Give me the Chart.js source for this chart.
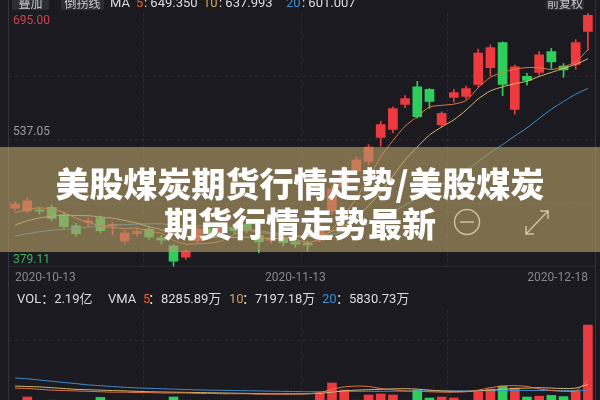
<!DOCTYPE html>
<html><head><meta charset="utf-8">
<script src="https://cdn.jsdelivr.net/npm/chart.js@4/dist/chart.umd.min.js"></script>
<style>
html,body{margin:0;padding:0;background:#1b1a20;}
#wrap{position:relative;width:600px;height:400px;overflow:hidden;background:#1b1a20;font-family:Roboto,"Noto Sans CJK SC",sans-serif;}
canvas{position:absolute;left:0;}
#c1{top:0;} #c2{top:290px;}
.t{position:absolute;white-space:nowrap;color:#dcdce0;font-size:13px;line-height:14px;}
.top{top:-4px;font-size:13px;}
.btn{position:absolute;top:-6px;height:16px;background:#2d2d35;color:#c9c9ce;font-size:12px;line-height:18px;text-align:center;border-radius:2px;font-family:"Noto Sans CJK SC",sans-serif;}
.vline{position:absolute;top:0;width:1px;height:400px;background:#33333b;}
#banner{position:absolute;left:0;top:147px;width:600px;height:105px;background:rgba(180,157,103,0.64);z-index:5;}
#btxt{position:absolute;left:0;top:16px;width:600px;text-align:center;color:#fff;font-family:"Noto Sans CJK SC",sans-serif;font-weight:900;font-size:34px;line-height:40px;}
#icons{position:absolute;left:0;top:0;}
</style></head>
<body>
<div id="wrap">
<canvas id="c1" width="600" height="290"></canvas>
<canvas id="c2" width="600" height="110"></canvas>
<div class="vline" style="left:8px"></div>
<div class="vline" style="left:595px"></div>

<div class="btn" style="left:12px;width:37px">叠加</div>
<div class="btn" style="left:61px;width:43px">倒拐线</div>
<div class="t top" style="left:110px">MA</div>
<div class="t top" style="left:136px;color:#e2622c">5</div>
<div class="t top" style="left:144px">: 649.350</div>
<div class="t top" style="left:203px;color:#caa45c">10</div>
<div class="t top" style="left:219px">: 637.993</div>
<div class="t top" style="left:286px;color:#3b8fd0">20</div>
<div class="t top" style="left:302px">: 601.007</div>
<div class="btn" style="left:546px;width:38px">前复权</div>

<div class="t" style="left:17px;top:292px">VOL：2.19亿</div>
<div class="t" style="left:108px;top:292px">VMA</div>
<div class="t" style="left:143px;top:292px;color:#e2622c">5</div>
<div class="t" style="left:148px;top:292px">：8285.89万</div>
<div class="t" style="left:229px;top:292px;color:#caa45c">10</div>
<div class="t" style="left:242px;top:292px">：7197.18万</div>
<div class="t" style="left:322px;top:292px;color:#3b8fd0">20</div>
<div class="t" style="left:336px;top:292px">：5830.73万</div>

<div id="banner">
  <div id="btxt">美股煤炭期货行情走势/美股煤炭<br>期货行情走势最新</div>
  <svg id="icons" width="600" height="105">
    <circle cx="467" cy="75" r="12.5" fill="none" stroke="rgba(235,222,190,0.75)" stroke-width="1.5"/>
    <line x1="460" y1="75" x2="474" y2="75" stroke="rgba(235,222,190,0.75)" stroke-width="1.5"/>
    <g stroke="rgba(235,222,190,0.75)" stroke-width="1.5" fill="none">
      <line x1="526" y1="87" x2="548" y2="64"/>
      <polyline points="540,64 548,64 548,72"/>
      <polyline points="526,79 526,87 534,87"/>
    </g>
  </svg>
</div>
</div>
<script>
const dates = ['2020-10-13','2020-10-14','2020-10-15','2020-10-16','2020-10-19','2020-10-20','2020-10-21','2020-10-22','2020-10-23','2020-10-26','2020-10-27','2020-10-28','2020-10-29','2020-10-30',
'2020-11-02','2020-11-03','2020-11-04','2020-11-05','2020-11-06','2020-11-09','2020-11-10','2020-11-11','2020-11-12','2020-11-13',
'2020-11-16','2020-11-17','2020-11-18','2020-11-19','2020-11-20','2020-11-23','2020-11-24','2020-11-25','2020-11-26','2020-11-27','2020-11-30',
'2020-12-01','2020-12-02','2020-12-03','2020-12-07','2020-12-08','2020-12-09','2020-12-10','2020-12-11','2020-12-14','2020-12-15','2020-12-16','2020-12-17','2020-12-18'];
const openP  = [452,448,449,453,444,430,434,440,430,411,420,426,415,405,391,411,425,421,428,432,418,412,414,410,408,412,448,478,498,510,540,550,581,603,600,556,590,591,606,627,658,575,616,621,647,629,631,672];
const highP  = [460,464,453,456,446,433,440,442,434,424,426,428,418,407,400,428,429,431,432,434,421,418,416,413,411,434,480,504,516,531,560,578,592,610,601,572,600,604,650,655,659,630,620,647,651,632,662,695];
const lowP   = [449,446,444,436,427,417,429,421,419,408,417,413,407,379.11,388,409,417,418,420,421,396,408,405,403,398,410,444,474,494,506,529,546,577,564,576,553,584,588,603,617,592,569,605,618,626,615,625,649];
const closeP = [457,461,448,439,429,420,436,424,431,421,423,416,412,386,398,426,420,428,424,425,410,414,409,407,406,430,476,498,512,528,556,576,588.5,566,585,570,596,601,645,652,606,628,611,643,634,624,658,692];
const ma5  = [446.0,450.6,452.2,450.8,446.8,439.4,434.4,429.6,428.0,426.4,427.0,423.0,420.6,411.6,407.0,407.6,408.4,411.6,419.2,424.6,421.4,420.2,416.4,413.0,409.2,413.2,425.6,443.4,464.4,488.8,516.0,536.0,554.0,566.0,577.8,580.0,581.5,586.0,602.0,615.0,621.0,625.0,627.0,627.0,624.6,628.0,634.0,649.35];
const ma10 = [431.0,436.1,439.7,442.0,442.9,442.7,442.5,440.9,439.4,436.6,433.2,428.7,425.1,419.8,416.7,417.3,415.7,416.1,415.4,415.8,414.5,414.3,414.0,416.1,416.9,417.3,422.9,429.9,440.0,455.0,472.0,492.0,512.0,528.0,543.0,553.0,562.0,574.0,588.0,598.0,603.0,607.0,610.0,616.0,621.0,626.0,631.0,637.99];
const ma20 = [417.0,420.1,422.6,424.4,425.6,426.6,428.4,429.4,430.7,431.4,432.1,432.4,432.4,430.9,429.8,430.0,429.1,428.5,427.4,426.2,423.9,421.5,419.6,418.0,416.8,417.3,419.3,423.0,427.1,432.4,439.1,447.1,455.9,464.9,474.2,481.4,490.2,498.9,509.9,521.3,531.1,541.8,551.9,563.7,575.1,584.8,593.9,601.01];
const volume = [3000,4100,3200,3300,3100,2900,3000,4000,2800,3000,2700,2900,3100,4100,3300,3200,2800,2900,2700,2800,3000,2600,2500,2600,2700,5090,7560,5830,3300,4600,4840,4600,3300,5830,3850,4100,3850,3200,5340,6080,6820,6320,4100,4300,4500,4200,5600,21900];
const vma5  = [6300,6200,6000,5800,5700,5600,5500,5400,5300,5300,5200,5200,5100,5100,5100,5000,5000,4900,4900,4900,4800,4800,4800,4800,4900,5200,6000,6600,6800,6700,6200,5900,5600,5500,5400,5300,5300,5400,5800,6400,6800,6900,6700,6100,5700,5500,5600,8285.89];
const vma10 = [6800,6700,6600,6400,6200,6000,5900,5800,5700,5600,5500,5400,5350,5300,5250,5200,5150,5100,5050,5000,4950,4900,4900,4900,4900,5000,5300,5600,5800,5900,6000,6100,6150,6050,5800,5600,5500,5500,5600,5800,6000,6200,6300,6400,6300,6200,6300,7197.18];
const vma20 = [8800,8600,8300,8000,7700,7400,7100,6900,6700,6500,6350,6250,6150,6050,5950,5850,5800,5750,5700,5650,5600,5550,5500,5450,5400,5400,5450,5500,5500,5500,5500,5550,5550,5600,5600,5600,5600,5600,5650,5650,5700,5700,5700,5700,5700,5700,5700,5830.73];
const priceTicks = [379.11, 537.05, 695.00];
const dateTickIndex = [0, 23, 47];
const gridIndex = [11, 24, 36];

const PMIN = priceTicks[0], PMAX = priceTicks[2];
const VMIN = 3360, VMAX = 25600;
const UP = '#ec3a3e', DOWN = '#2fce5c';
const C5 = '#e4773f', C10 = '#d9b870', C20 = '#3f8fcf';
const GRID = '#2b2b33';
Chart.defaults.font.family = 'Roboto, "Noto Sans CJK SC", sans-serif';
const candleColors = openP.map((o, i) => closeP[i] >= o ? UP : DOWN);
const zeroWidth = s => { s.width = 0; };

function lineDs(data, color) {
  return {type: 'line', data, borderColor: color, borderWidth: 1, pointRadius: 0, tension: 0.25, order: 0};
}
function labelAxis(val, offset, color) {
  return {position: 'left', min: PMIN, max: PMAX, afterFit: zeroWidth,
    afterBuildTicks: a => { a.ticks = [{value: val}]; },
    grid: {display: false, drawTicks: false}, border: {display: false},
    ticks: {mirror: true, padding: 4, labelOffset: offset, color, font: {size: 12}, callback: v => Number(v).toFixed(2)}};
}
const xGrid = {offset: true, drawTicks: false, color: c => gridIndex.includes(c.index) ? GRID : 'rgba(0,0,0,0)'};

new Chart(document.getElementById('c1'), {
  type: 'bar',
  data: {labels: dates, datasets: [
    lineDs(ma5, C5), lineDs(ma10, C10), lineDs(ma20, C20),
    {type: 'bar', data: openP.map((o, i) => [o, closeP[i]]), backgroundColor: candleColors, barThickness: 9, minBarLength: 1.5, grouped: false, borderWidth: 0, order: 1},
    {type: 'bar', data: lowP.map((l, i) => [l, highP[i]]), backgroundColor: candleColors, barThickness: 1, grouped: false, borderWidth: 0, order: 2}
  ]},
  options: {
    responsive: false, animation: false,
    layout: {padding: {left: 9, right: 6, top: 13, bottom: 1}},
    plugins: {legend: {display: false}, tooltip: {enabled: false}},
    scales: {
      x: {offset: true, grid: xGrid, border: {display: true, color: '#2a2a31', dash: [3, 3]},
          ticks: {autoSkip: false, maxRotation: 0, minRotation: 0, align: 'inner', padding: 4, color: '#86868d', font: {size: 12},
                  callback: (v, i) => dateTickIndex.includes(i) ? dates[i] : ''}},
      y: {display: false, min: PMIN, max: PMAX},
      yg: {position: 'left', min: PMIN, max: PMAX, afterFit: zeroWidth,
           afterBuildTicks: a => { a.ticks = [1, 2, 3].map(k => ({value: PMIN + k * (PMAX - PMIN) / 4})); },
           ticks: {display: false}, grid: {color: GRID, drawTicks: false}, border: {display: false, dash: [3, 3]}},
      yTop: labelAxis(priceTicks[2], 8, '#cc4450'),
      yMid: labelAxis(priceTicks[1], -8, '#9a9aa0'),
      yBot: labelAxis(priceTicks[0], -7, '#3fb35e')
    }
  }
});

new Chart(document.getElementById('c2'), {
  type: 'bar',
  data: {labels: dates, datasets: [
    lineDs(vma5, C5), lineDs(vma10, C10), lineDs(vma20, C20),
    {type: 'bar', data: volume, backgroundColor: candleColors, barThickness: 9, borderWidth: 0, order: 1}
  ]},
  options: {
    responsive: false, animation: false,
    layout: {padding: {left: 9, right: 6, top: 20, bottom: 0}},
    plugins: {legend: {display: false}, tooltip: {enabled: false}},
    scales: {
      x: {offset: true, grid: xGrid, border: {display: false, dash: [3, 3]}, ticks: {display: false}},
      y: {position: 'left', min: VMIN, max: VMAX, afterFit: zeroWidth,
          afterBuildTicks: a => { a.ticks = [{value: VMIN + (VMAX - VMIN) * 2 / 3}]; },
          ticks: {display: false}, grid: {color: GRID, drawTicks: false}, border: {display: false, dash: [3, 3]}}
    }
  }
});
</script>
</body></html>
